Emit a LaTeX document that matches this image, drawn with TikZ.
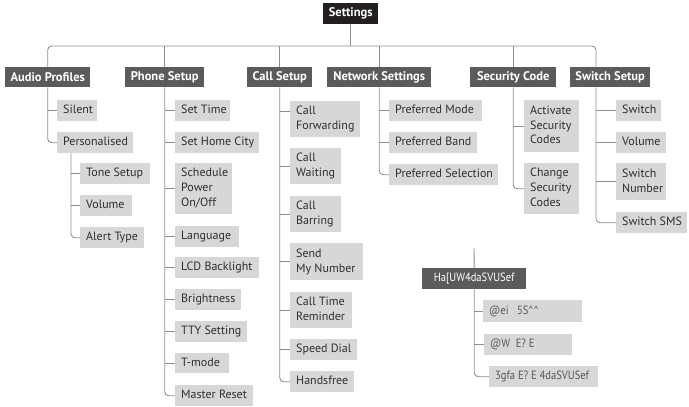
\documentclass[tikz,border=0pt]{standalone}
\usepackage{fontspec}
\setmainfont{PT Sans}
\newfontfamily\garbfont[FakeStretch=0.88]{PT Sans}
\usetikzlibrary{calc}
\definecolor{topc}{HTML}{231F20}
\definecolor{catc}{HTML}{5B5B5B}
\definecolor{leafc}{HTML}{D7D7D7}
\definecolor{linec}{HTML}{8E8E8E}
\definecolor{txtc}{HTML}{2E2E2E}
\tikzset{
 conn/.style={draw=linec, line width=0.9pt},
 connlast/.style={conn, rounded corners=4pt},
 leaf/.style={fill=leafc, text=txtc, inner xsep=6pt, inner ysep=0pt, anchor=north west, font=\fontsize{12}{14.8}\selectfont},
 cat/.style={fill=catc, text=white, inner sep=0pt, anchor=north west, font=\bfseries\fontsize{12.5}{14}\selectfont},
 settingsbox/.style={cat, fill=topc},
 garbcat/.style={cat, font=\garbfont\fontsize{12}{14}\selectfont},
 garbleaf/.style={font=\garbfont\fontsize{12}{14}\selectfont, text=txtc!80},
}
\newcommand\lbox[7][]{%
 \pgfmathsetmacro\bw{#5-#3}\pgfmathsetmacro\bh{#6-#4}\pgfmathsetmacro\tw{#5-#3-12}%
 \node[leaf, #1, minimum width=\bw pt, minimum height=\bh pt] (#2) at (#3,#4) {\makebox[\tw pt][l]{\begin{tabular}{@{}l@{}}#7\end{tabular}}};}
\newcommand\cbox[7][cat]{%
 \pgfmathsetmacro\bw{#5-#3}\pgfmathsetmacro\bh{#6-#4}%
 \node[#1, minimum width=\bw pt, minimum height=\bh pt] (#2) at (#3,#4) {#7};}
\begin{document}
\begin{tikzpicture}[x=1pt, y=-1pt]
\useasboundingbox (0,0) rectangle (689,407);
% level 0 / 1
\cbox[settingsbox]{set}{323}{3}{378}{24}{Settings}
\cbox{ap}{5}{67}{90}{87}{Audio Profiles}
\cbox{ps}{125}{67}{204}{87}{Phone Setup}
\cbox{cs}{247}{67}{312}{87}{Call Setup}
\cbox{ns}{327}{67}{431}{87}{Network Settings}
\cbox{sc}{470}{67}{556}{87}{Security Code}
\cbox{sw}{570}{67}{650}{87}{Switch Setup}
% Audio profiles
\lbox{silent}{57}{100}{97}{121}{Silent}
\lbox{pers}{57}{132}{133}{153}{Personalised}
\lbox{tone}{80}{163}{150}{184}{Tone Setup}
\lbox{vol}{80}{195}{132}{216}{Volume}
\lbox{alert}{80}{227}{144}{248}{Alert Type}
% Phone setup
\lbox{stime}{175}{100}{230}{121}{Set Time}
\lbox{scity}{175}{132}{259}{153}{Set Home City}
\lbox{sched}{175}{163}{232}{214}{Schedule\\Power\\On/Off}
\lbox{lang}{175}{226}{239}{247}{Language}
\lbox{lcd}{175}{257}{259}{278}{LCD Backlight}
\lbox{bright}{175}{289}{241}{310}{Brightness}
\lbox{tty}{175}{321}{247}{342}{TTY Setting}
\lbox{tmode}{175}{353}{229}{373}{T-mode}
\lbox{master}{175}{385}{253}{406}{Master Reset}
% Call setup
\lbox{cfwd}{290}{101}{360}{137}{Call\\Forwarding}
\lbox{cwait}{290}{148}{341}{184}{Call\\Waiting}
\lbox{cbar}{290}{196}{341}{232}{Call\\Barring}
\lbox{send}{290}{243}{363}{280}{Send\\My Number}
\lbox{ctr}{290}{292}{352}{328}{Call Time\\Reminder}
\lbox{speed}{290}{339}{357}{360}{Speed Dial}
\lbox{hands}{290}{371}{354}{392}{Handsfree}
% Network settings
\lbox{pmode}{389}{100}{482}{121}{Preferred Mode}
\lbox{pband}{389}{132}{477}{153}{Preferred Band}
\lbox{psel}{389}{164}{498}{185}{Preferred Selection}
% Security code
\lbox{act}{524}{100}{579}{152}{Activate\\Security\\Codes}
\lbox{chg}{524}{163}{579}{214}{Change\\Security\\Codes}
% Switch setup
\lbox{swi}{616}{100}{661}{121}{Switch}
\lbox{swvol}{616}{132}{666}{153}{Volume}
\lbox{swnum}{616}{163}{666}{200}{Switch\\Number}
\lbox{swsms}{616}{212}{687}{233}{Switch SMS}
% garbled block
\cbox[garbcat]{hb}{422}{268}{526}{289}{Ha{[}UW4daSVUSef}
\lbox[garbleaf]{g1}{483}{300}{582}{322}{@ei\ \ \ 5S\textasciicircum\textasciicircum}
\lbox[garbleaf]{g2}{484}{334}{572}{355}{@W\ \ E? E}
\lbox[garbleaf, inner xsep=2pt]{g3}{489}{366}{598}{387}{3gfa E? E 4daSVUSef}
% connectors: top bus
\coordinate (bus) at (351,46);
\draw[conn] (set.south) -- (set.south |- bus);
\draw[connlast] (ap.north) |- (bus) -| ([xshift=26pt]sw.north west);
\foreach \n in {ps,cs,ns,sc} \draw[conn] (\n.north) -- (\n.north |- bus);
% audio profiles
\draw[connlast] (ap.south) |- (pers.west);
\draw[conn] (silent.west) -- (silent.west -| ap.south);
\coordinate (pstem) at ([xshift=14pt]pers.south west);
\draw[connlast] (pstem) |- (alert.west);
\foreach \n in {tone,vol} \draw[conn] (\n.west) -- (\n.west -| pstem);
% phone setup
\draw[connlast] (ps.south) |- (master.west);
\foreach \n in {stime,scity,sched,lang,lcd,bright,tty,tmode} \draw[conn] (\n.west) -- (\n.west -| ps.south);
% call setup
\draw[connlast] (cs.south) |- (hands.west);
\draw[conn] ([yshift=8pt]cfwd.west) -- ([yshift=8pt]cfwd.west -| cs.south);
\foreach \n in {cwait,cbar,send,ctr,speed} \draw[conn] (\n.west) -- (\n.west -| cs.south);
% network
\draw[connlast] (ns.south) |- (psel.west);
\foreach \n in {pmode,pband} \draw[conn] (\n.west) -- (\n.west -| ns.south);
% security
\draw[connlast] (sc.south) |- (chg.west);
\draw[conn] (act.west) -- (act.west -| sc.south);
% switch
\coordinate (swstem) at ([xshift=26pt]sw.south west);
\draw[connlast] (swstem) |- (swsms.west);
\foreach \n in {swi,swvol,swnum} \draw[conn] (\n.west) -- (\n.west -| swstem);
% garbled block
\coordinate (htop) at (474,248);
\draw[conn] (htop) -- (hb.north);
\draw[connlast] (hb.south) |- (g3.west);
\foreach \n in {g1,g2} \draw[conn] (\n.west) -- (\n.west -| hb.south);
\end{tikzpicture}
\end{document}
